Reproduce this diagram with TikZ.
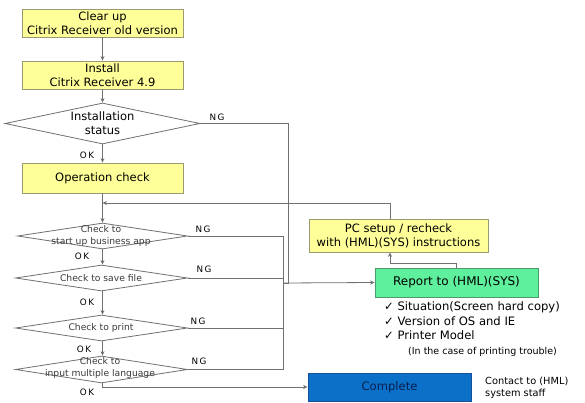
\documentclass[tikz,border=0pt]{standalone}
\usepackage{fontspec}
\setmainfont{DejaVu Sans}
\usetikzlibrary{shapes.geometric,arrows.meta}
\definecolor{boxyellow}{HTML}{FFFF99}
\definecolor{boxedge}{HTML}{9A9A70}
\definecolor{repgreen}{HTML}{5EF09C}
\definecolor{repedge}{HTML}{4A9A6A}
\definecolor{compblue}{HTML}{0A70C8}
\definecolor{compedge}{HTML}{1A4E9A}
\definecolor{comptext}{HTML}{0A1F4F}
\definecolor{linegray}{HTML}{707070}
\definecolor{smalltext}{HTML}{3A3A3A}
\begin{document}
\begin{tikzpicture}[x=1pt,y=-1pt,
  ybox/.style={draw=boxedge, fill=boxyellow, line width=0.8pt, minimum width=161pt, minimum height=28pt, inner sep=0pt, align=center, font=\fontsize{11.5}{14}\selectfont},
  dia/.style={diamond, draw=linegray, line width=0.8pt, inner sep=0pt, fill=white},
  bigtxt/.style={inner sep=0pt, align=center, font=\fontsize{11.5}{14}\selectfont},
  smalltxt/.style={inner sep=0pt, align=center, text=smalltext, font=\fontsize{9.2}{12}\selectfont},
  conn/.style={draw=linegray, line width=0.8pt},
  arr/.style={conn, -{Stealth[length=4.5pt,width=4pt]}},
  lab/.style={inner sep=0pt, font=\fontsize{8.8}{10}\selectfont},
  note/.style={inner sep=0pt, anchor=west, font=\fontsize{11.6}{13}\selectfont},
]
\useasboundingbox (0,0) rectangle (585,403);
\fill[white] (0,0) rectangle (585,403);

% boxes
\node[ybox] (b1) at (102.5,23) {Clear up\\Citrix Receiver old version};
\node[ybox] (b2) at (102.5,75) {Install\\Citrix Receiver 4.9};
\node[ybox, minimum height=30pt] (op) at (102.5,178) {Operation check};
\node[ybox, minimum width=179pt, minimum height=33pt] (pc) at (398.5,235.5) {PC setup / recheck\\with (HML)(SYS) instructions};
\node[draw=repedge, fill=repgreen, line width=0.8pt, minimum width=163pt, minimum height=29pt, inner sep=0pt, font=\fontsize{12}{14}\selectfont] (rep) at (456.5,282.5) {Report to (HML)(SYS)};
\node[draw=compedge, fill=compblue, line width=0.8pt, minimum width=163pt, minimum height=28pt, inner sep=0pt, text=comptext, font=\fontsize{11.6}{14}\selectfont] (comp) at (389.5,387) {Complete};

% diamonds
\node[dia, minimum width=195pt, minimum height=41pt] (d1) at (102.5,123.5) {};
\node[bigtxt] (t1) at (d1.center) {Installation\\status};
\node[dia, minimum width=170pt, minimum height=26pt] (d2) at (102.5,236) {};
\node[dia, minimum width=172pt, minimum height=26pt] (d3) at (101.5,278) {};
\node[dia, minimum width=172pt, minimum height=26pt] (d4) at (101.5,328) {};
\node[dia, minimum width=172pt, minimum height=27pt] (d5) at (101.5,369.5) {};
\node[smalltxt] (t2) at (101,236) {Check to\\start up business app};
\node[smalltxt] (t3) at (101,278) {Check to save file};
\node[smalltxt] (t4) at (101,328) {Check to print};
\node[smalltxt] (t5) at (100,368) {Check to\\input multiple language};

% coordinates
\coordinate (ngv) at (288,123.5);
\coordinate (ngc) at (283,283);
\coordinate (fb) at (390,203);
\coordinate (rp) at (390,263);

% main flow
\draw[arr] (b1.south) -- (b2.north);
\draw[arr] (b2.south) -- (d1.north);
\draw[arr] (d1.south) -- (op.north);
\draw[arr] (op.south) -- (d2.north -| op.south);
\draw[arr] (d2.south -| op.south) -- (d3.north -| op.south);
\draw[arr] (d3.south -| op.south) -- (d4.north -| op.south);
\draw[arr] (d4.south -| op.south) -- (d5.north -| op.south);
\draw[arr] (d5.south -| op.south) |- (comp.west);

% NG lines
\draw[conn] (d1.east) -- (ngv) -- (ngv |- ngc) -- (ngc);
\draw[conn] (d2.east) -| (ngc);
\draw[conn] (d3.east) -- (d3.east -| ngc);
\draw[conn] (d4.east) -- (d4.east -| ngc);
\draw[conn] (d5.east) -| (ngc);
\draw[arr] (ngc) -- (rep.west);

% feedback
\draw[arr] (rep.north) |- (rp) -- (pc.south -| rp);
\draw[arr] (pc.north -| fb) -- (fb) -- (fb -| op.south);

% OK / NG labels
\node[lab] (ok1) at (87,155) {O\,K};
\node[lab] (ng1) at (217,117) {N\,G};
\node[lab] (ok2) at (82,256) {O\,K};
\node[lab] (ng2) at (203,229) {N\,G};
\node[lab] (ok3) at (87,302) {O\,K};
\node[lab] (ng3) at (204,269) {N\,G};
\node[lab] (ok4) at (84,349) {O\,K};
\node[lab] (ng4) at (198,321) {N\,G};
\node[lab] (ok5) at (87,392) {O\,K};
\node[lab] (ng5) at (199,361) {N\,G};

% notes
\node[note] (n1) at (384,307) {✓ Situation(Screen hard copy)};
\node[note] (n2) at (384,321) {✓ Version of OS and IE};
\node[note] (n3) at (384,335) {✓ Printer Model};
\node[note, font=\fontsize{9.5}{11}\selectfont] (n4) at (408,352) {(In the case of printing trouble)};
\node[inner sep=0pt, anchor=west, align=left, font=\fontsize{9.8}{12}\selectfont] (contact) at (485,388) {Contact to (HML)\\system staff};
\end{tikzpicture}
\end{document}
